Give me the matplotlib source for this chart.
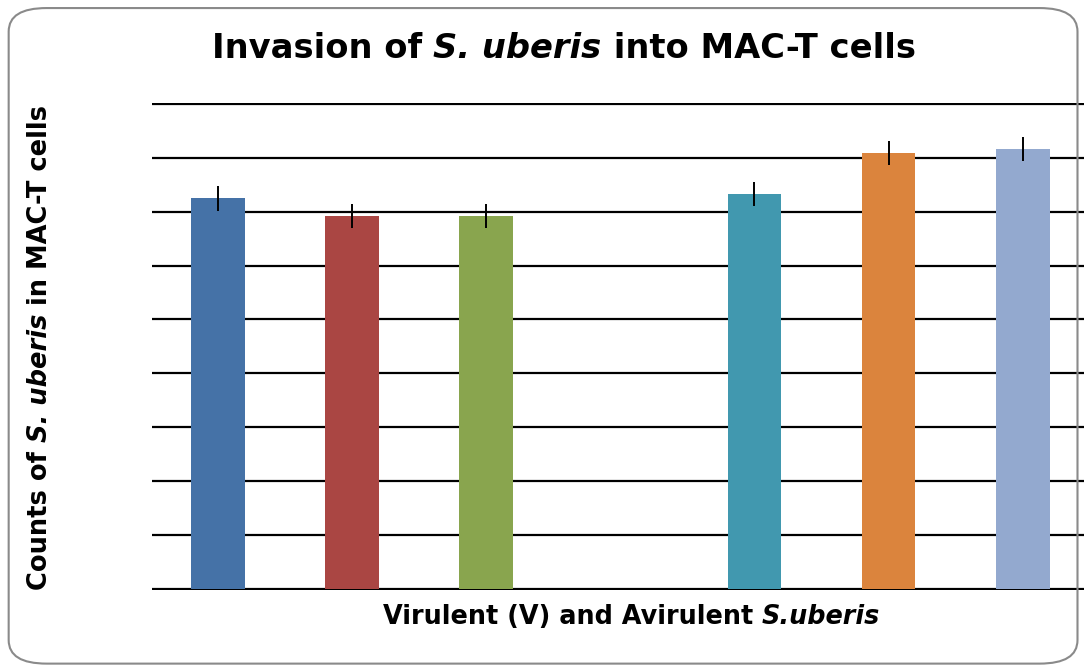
import numpy as np
import matplotlib.pyplot as plt
from matplotlib.patches import FancyBboxPatch

# bar data (grid units, no tick labels shown in the original)
positions = [0, 1, 2, 4, 5, 6]
counts = [7.25, 6.92, 6.92, 7.33, 8.09, 8.16]
errors = [0.23, 0.23, 0.23, 0.22, 0.23, 0.22]
colors = ['#4572A7', '#AA4643', '#89A54E', '#4198AF', '#DB843D', '#93A9CF']
grid_levels = np.arange(0, 10)

title_parts = [('Invasion of ', 'normal'), ('S. uberis', 'italic'),
               (' into MAC-T cells', 'normal')]
xlabel_parts = [('Virulent (V) and Avirulent ', 'normal'), ('S.uberis', 'italic')]
ylabel_parts = [('Counts of ', 'normal'), ('S. uberis', 'italic'),
                (' in MAC-T cells', 'normal')]

fig = plt.figure(figsize=(10.84, 6.71), dpi=100)
ax = fig.add_axes([0.1402, 0.1206, 0.8640, 0.7262])

ax.bar(positions, counts, width=0.40, color=colors, zorder=3)
ax.errorbar(positions, counts, yerr=errors, fmt='none', ecolor='black',
            elinewidth=1.4, capsize=0, zorder=4)

ax.set_xlim(-0.49, 6.49)
ax.set_ylim(-0.02, 9.02)
ax.set_yticks(grid_levels)
ax.yaxis.grid(True, color='black', linewidth=1.6)
ax.set_axisbelow(True)
ax.tick_params(left=False, bottom=False, labelleft=False, labelbottom=False)
for s in ax.spines.values():
    s.set_visible(False)


def rich_text(x, y, parts, size, vertical=False):
    # mixed upright / italic text, centred on (x, y) in figure fraction
    r = fig.canvas.get_renderer()
    W, H = fig.bbox.width, fig.bbox.height
    lens = []
    for s, style in parts:
        # measure with a marker char so trailing spaces count
        t = fig.text(0, 0, s.replace(' ', '\u00a0') + '|', fontsize=size,
                     fontweight='bold', fontstyle=style)
        bar = fig.text(0, 0, '|', fontsize=size, fontweight='bold', fontstyle=style)
        lens.append(t.get_window_extent(r).width - bar.get_window_extent(r).width)
        t.remove()
        bar.remove()
    total = sum(lens)
    pos = -total / 2
    for (s, style), l in zip(parts, lens):
        if vertical:
            fig.text(x, y + pos / H, s.replace(' ', '\u00a0'), fontsize=size,
                     fontweight='bold', fontstyle=style, rotation=90,
                     ha='center', va='bottom')
        else:
            fig.text(x + pos / W, y, s.replace(' ', '\u00a0'), fontsize=size,
                     fontweight='bold', fontstyle=style, ha='left', va='center')
        pos += l


rich_text(0.520, 0.928, title_parts, 24.3)
rich_text(0.5825, 0.080, xlabel_parts, 18.4)
rich_text(0.037, 0.482, ylabel_parts, 18.5, vertical=True)

border = FancyBboxPatch((0.008, 0.011), 0.986, 0.977,
                        boxstyle='round,pad=0,rounding_size=0.035',
                        transform=fig.transFigure, fill=False,
                        edgecolor='#8a8a8a', linewidth=1.5)
fig.patches.append(border)

fig.savefig('out.png', dpi=100)
